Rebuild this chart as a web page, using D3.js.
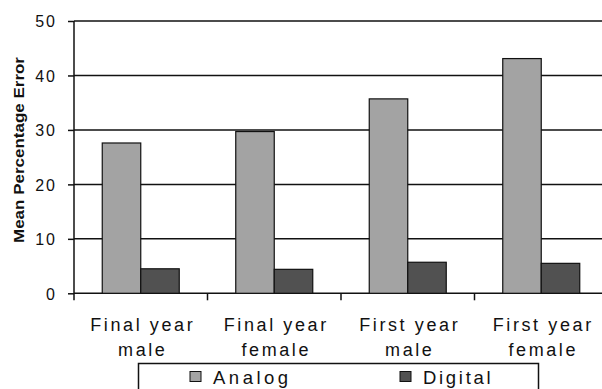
<!DOCTYPE html>
<html>
<head>
<meta charset="utf-8">
<script src="https://cdn.jsdelivr.net/npm/d3@7/dist/d3.min.js"></script>
<style>
  html, body { margin: 0; padding: 0; background: #fff; }
  svg { display: block; }
  text { font-family: Arial, "Liberation Sans", sans-serif; fill: #111; }
</style>
</head>
<body>
<svg id="chart" width="602" height="389"></svg>
<script>
// Mean percentage error by student group, analog vs digital
const categories = [["Final year", "male"], ["Final year", "female"], ["First year", "male"], ["First year", "female"]];
const seriesNames = ["Analog", "Digital"];
const analog = [27.6, 29.7, 35.7, 43.1];
const digital = [4.5, 4.4, 5.7, 5.5];
const yTicks = [0, 10, 20, 30, 40, 50];
const colors = ["#a3a3a3", "#515151"];

const svg = d3.select("#chart");
const plotLeft = 74, plotRight = 608, plotTop = 21, plotBottom = 293.3;

const x = d3.scaleBand().domain(d3.range(categories.length)).range([plotLeft, plotRight]).padding(0);
const xInner = d3.scaleBand().domain(seriesNames).range([0, 77]);
const y = d3.scaleLinear().domain([0, 50]).range([plotBottom, plotTop]);

// horizontal gridlines
svg.append("g").selectAll("line").data(yTicks).join("line")
  .attr("x1", plotLeft).attr("x2", plotRight)
  .attr("y1", d => y(d)).attr("y2", d => y(d))
  .attr("stroke", "#111").attr("stroke-width", 1.5);

// bars
const groups = svg.append("g").selectAll("g").data(categories.map((c, i) => i)).join("g")
  .attr("transform", i => `translate(${x(i) + (x.bandwidth() - 77) / 2},0)`);
groups.selectAll("rect").data(i => [analog[i], digital[i]].map((v, k) => ({ k, v }))).join("rect")
  .attr("x", d => xInner(seriesNames[d.k]))
  .attr("width", xInner.bandwidth())
  .attr("y", d => y(d.v))
  .attr("height", d => y(0) - y(d.v))
  .attr("fill", d => colors[d.k])
  .attr("stroke", "#111").attr("stroke-width", 1.2);

// y axis
const yAxis = svg.append("g").attr("transform", `translate(${plotLeft},0)`)
  .call(d3.axisLeft(y).tickValues(yTicks).tickSize(6).tickPadding(11));
yAxis.select(".domain").attr("stroke", "#111").attr("stroke-width", 1.5).attr("d", `M0,${plotTop}V${plotBottom + 7}`);
yAxis.selectAll(".tick line").attr("stroke", "#111").attr("stroke-width", 1.5);
yAxis.selectAll(".tick text").attr("font-size", 16).attr("fill", "#222")
  .attr("letter-spacing", 2)
  .style("font-family", "Arial, 'Liberation Sans', sans-serif").attr("dy", "0.36em");

// x axis ticks at category boundaries
const bounds = d3.range(categories.length).map(i => x(i)).slice(1);
svg.append("g").selectAll("line").data(bounds).join("line")
  .attr("x1", d => d).attr("x2", d => d)
  .attr("y1", plotBottom).attr("y2", plotBottom + 7)
  .attr("stroke", "#111").attr("stroke-width", 1.5);

// category labels
const catLabels = svg.append("g").selectAll("text").data(categories).join("text")
  .attr("text-anchor", "middle")
  .attr("font-size", 18)
  .attr("letter-spacing", 2.6);
catLabels.each(function (c, i) {
  const t = d3.select(this);
  c.forEach((line, j) => {
    t.append("tspan").attr("x", x(i) + x.bandwidth() / 2 + 2).attr("y", 331 + j * 24.5).text(line);
  });
});

// y axis title
svg.append("text")
  .attr("transform", `translate(24,150) rotate(-90)`)
  .attr("text-anchor", "middle")
  .attr("font-size", 14).attr("font-weight", "bold")
  .attr("textLength", 186).attr("lengthAdjust", "spacingAndGlyphs")
  .text("Mean Percentage Error");

// legend
const legend = svg.append("g");
legend.append("rect").attr("x", 138.5).attr("y", 363.5).attr("width", 400).attr("height", 40)
  .attr("fill", "#fff").attr("stroke", "#111").attr("stroke-width", 1.5);
const legendX = [190, 400];
seriesNames.forEach((name, k) => {
  legend.append("rect").attr("x", legendX[k]).attr("y", 371.5).attr("width", 11).attr("height", 10)
    .attr("fill", colors[k]).attr("stroke", "#111").attr("stroke-width", 1);
  legend.append("text").attr("x", legendX[k] + 23).attr("y", 383.5)
    .attr("font-size", 18.5).attr("letter-spacing", k === 0 ? 3.5 : 2.7)
    .text(name);
});
</script>
</body>
</html>
